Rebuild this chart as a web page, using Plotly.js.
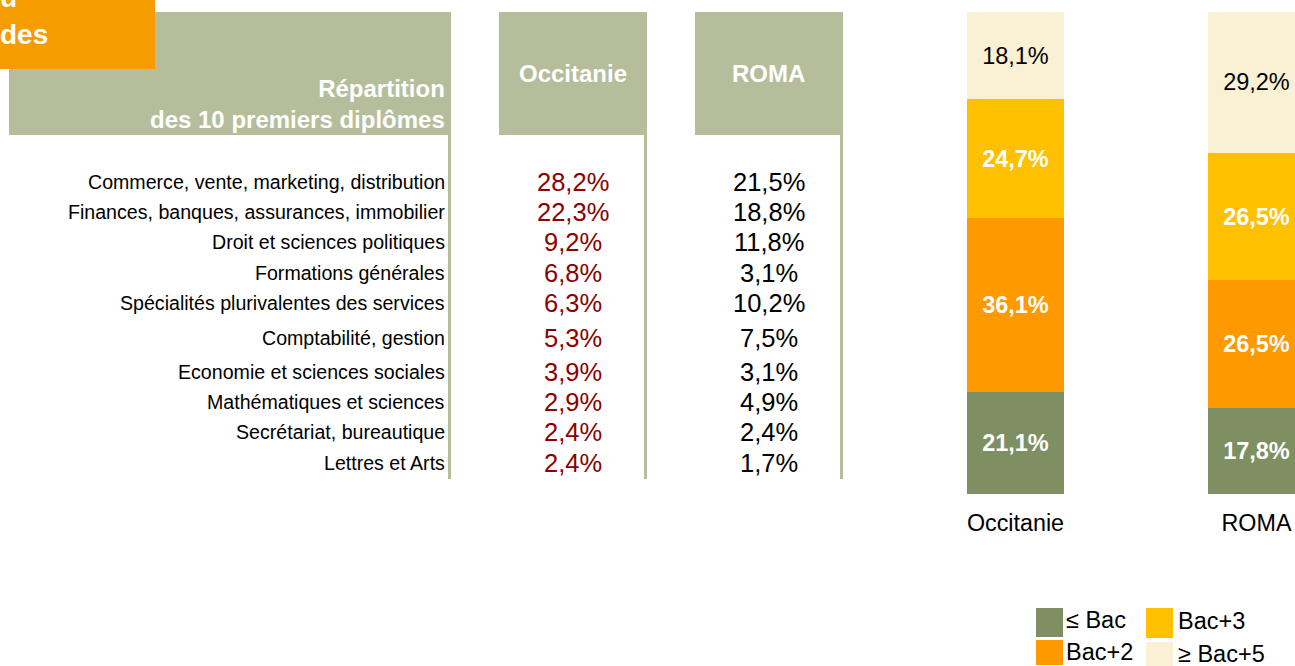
<!DOCTYPE html>
<html>
<head>
<meta charset="utf-8">
<script src="https://cdn.plot.ly/plotly-3.0.1.min.js"></script>
<style>html,body{margin:0;padding:0;background:#fff;}#chart{width:1295px;height:666px;}</style>
</head>
<body>
<div id="chart"></div>
<script>
// ---- data ----
const categories = ['Occitanie', 'ROMA'];
const levels = ['≤ Bac', 'Bac+2', 'Bac+3', '≥ Bac+5'];
const levelOccitanie = [21.1, 36.1, 24.7, 18.1];
const levelRoma = [17.8, 26.5, 26.5, 29.2];
const diplomas = [
  'Commerce, vente, marketing, distribution',
  'Finances, banques, assurances, immobilier',
  'Droit et sciences politiques',
  'Formations générales',
  'Spécialités plurivalentes des services',
  'Comptabilité, gestion',
  'Economie et sciences sociales',
  'Mathématiques et sciences',
  'Secrétariat, bureautique',
  'Lettres et Arts'
];
const diplomaOccitanie = [28.2, 22.3, 9.2, 6.8, 6.3, 5.3, 3.9, 2.9, 2.4, 2.4];
const diplomaRoma = [21.5, 18.8, 11.8, 3.1, 10.2, 7.5, 3.1, 4.9, 2.4, 1.7];
const tableTitle = 'Répartition<br>des 10 premiers diplômes';
const cornerLines = ['u', 'des'];

// ---- styles / layout constants ----
const W = 1295, H = 666;
const px = x => x / W;
const py = y => 1 - y / H;
const levelColors = ['#7E8F62', '#FF9900', '#FFC000', '#FAF0D3'];
const levelTextColors = ['#ffffff', '#ffffff', '#ffffff', '#000000'];
const levelTextWeights = ['bold', 'bold', 'bold', 'normal'];
const headerGreen = '#B6BD9A';
const cornerOrange = '#F59D00';
const darkRed = '#8B0000';
const FONT = 'Liberation Sans, Arial, sans-serif';
const rowY = [182, 212, 242, 273, 303, 338, 372, 402, 432, 463];
const legendPos = [[1036, 608, 1063, 637, 1065, 620], [1036, 640, 1063, 665, 1065, 652],
                   [1146, 608, 1173, 638, 1177, 621], [1146, 642, 1173, 666, 1177, 654]];

const fmt = v => v.toFixed(1).replace('.', ',') + '%';

const traces = levels.map((name, i) => ({
  type: 'bar',
  name: name,
  x: categories,
  y: [levelOccitanie[i], levelRoma[i]],
  width: 0.4025,
  marker: {color: levelColors[i], line: {width: 0}},
  texttemplate: '%{y:.1f}%',
  textposition: 'inside',
  insidetextanchor: 'middle',
  textangle: 0,
  constraintext: 'none',
  insidetextfont: {family: FONT, size: 23.5, color: levelTextColors[i], weight: levelTextWeights[i]},
  hoverinfo: 'skip',
  showlegend: false
}));

const shapes = [];
const rect = (x0, y0, x1, y1, color) => shapes.push({
  type: 'rect', xref: 'paper', yref: 'paper',
  x0: px(x0), x1: px(x1), y0: py(y1), y1: py(y0),
  fillcolor: color, line: {width: 0}, layer: 'above'
});
// table headers
rect(9, 12, 451, 135, headerGreen);
rect(499, 12, 647, 135, headerGreen);
rect(695, 12, 843, 135, headerGreen);
// column rules
rect(448, 135, 451, 479, headerGreen);
rect(644, 135, 647, 479, headerGreen);
rect(840, 135, 843, 479, headerGreen);
// corner box
rect(0, 0, 155, 69, cornerOrange);
// legend swatches
levels.forEach((n, i) => { const p = legendPos[i]; rect(p[0], p[1], p[2], p[3], levelColors[i]); });

const annotations = [];
const ann = (text, x, y, xanchor, font) => annotations.push({
  text: text, xref: 'paper', yref: 'paper', x: px(x), y: py(y),
  xanchor: xanchor, yanchor: 'middle', showarrow: false, font: font, align: xanchor === 'right' ? 'right' : (xanchor === 'left' ? 'left' : 'center'),
  borderpad: 0
});
const whiteBold = {family: FONT, size: 24, color: '#ffffff', weight: 'bold'};
ann(cornerLines[0], -1, -3, 'left', {family: FONT, size: 28, color: '#ffffff', weight: 'bold'});
ann(cornerLines[1], -1, 35, 'left', {family: FONT, size: 28, color: '#ffffff', weight: 'bold'});
annotations.push({text: tableTitle, xref: 'paper', yref: 'paper', x: px(446), y: py(104),
  xanchor: 'right', yanchor: 'middle', align: 'right', showarrow: false, font: whiteBold, borderpad: 0});
ann(categories[0], 573, 73, 'center', whiteBold);
ann(categories[1], 769, 73, 'center', whiteBold);
diplomas.forEach((d, i) => {
  ann(d, 446, rowY[i], 'right', {family: FONT, size: 19.6, color: '#000000'});
  ann(fmt(diplomaOccitanie[i]), 573, rowY[i], 'center', {family: FONT, size: 25.5, color: darkRed});
  ann(fmt(diplomaRoma[i]), 769, rowY[i], 'center', {family: FONT, size: 25.5, color: '#000000'});
});
levels.forEach((n, i) => {
  const p = legendPos[i];
  ann(n, p[4], p[5], 'left', {family: FONT, size: 23.5, color: '#000000'});
});

const layout = {
  width: W, height: H,
  margin: {l: 0, r: 0, t: 0, b: 0, pad: 0},
  paper_bgcolor: '#ffffff', plot_bgcolor: 'rgba(0,0,0,0)',
  barmode: 'stack', bargap: 0,
  separators: ', ',
  showlegend: false,
  xaxis: {
    type: 'category', categoryorder: 'array', categoryarray: categories,
    domain: [0, 1], range: [-4.2137, 1.1598],
    showgrid: false, zeroline: false, showline: false,
    ticks: 'outside', ticklen: 8, tickcolor: 'rgba(0,0,0,0)',
    tickfont: {family: FONT, size: 23.3, color: '#000000'},
    fixedrange: true
  },
  yaxis: {
    domain: [py(494), py(12)], range: [0, 100],
    visible: false, showgrid: false, zeroline: false, fixedrange: true
  },
  shapes: shapes,
  annotations: annotations,
  font: {family: FONT}
};

Plotly.newPlot('chart', traces, layout, {displayModeBar: false, staticPlot: true});
</script>
</body>
</html>
